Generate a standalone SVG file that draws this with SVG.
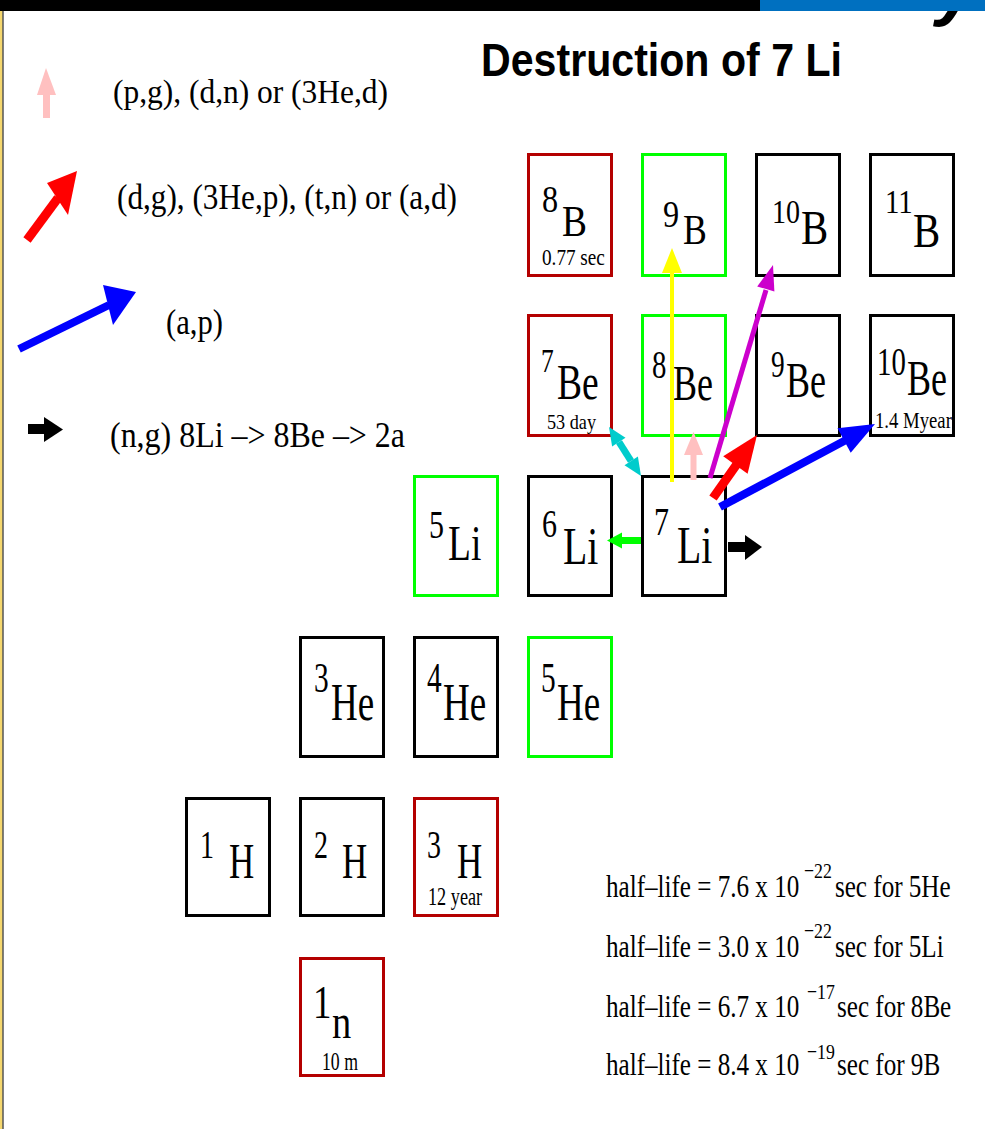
<svg xmlns="http://www.w3.org/2000/svg" width="985" height="1129" viewBox="0 0 985 1129">
<style>
.bx{fill:#ffffff;stroke-width:3}
.k{stroke:#000000}
.g{stroke:#00ff00}
.r{stroke:#b40000}
.t{font-family:"Liberation Serif","Times New Roman",serif;fill:#000000}
.s{font-family:"Liberation Sans",Arial,sans-serif;font-weight:bold;fill:#000000}
</style>
<rect x="0" y="0" width="985" height="1129" fill="#ffffff"/>
<text x="936" y="12" class="s" font-style="italic" font-size="72">y</text>
<rect x="0" y="0" width="760" height="11" fill="#000000"/>
<rect x="760" y="0" width="225" height="11" fill="#0070c0"/>
<rect x="0" y="11" width="2.5" height="1118" fill="#f5d76e"/>
<line x1="3" y1="11" x2="3" y2="1129" stroke="#000000" stroke-width="1"/>

<text x="481" y="76" class="s" font-size="46" textLength="361" lengthAdjust="spacingAndGlyphs">Destruction of 7 Li</text>

<g id="legend">
  <polygon points="46,68 37,95 56,95" fill="#ffc0c0"/>
  <rect x="43" y="94" width="7" height="24" fill="#ffc0c0"/>
  <text x="113" y="103" class="t" font-size="34" textLength="275" lengthAdjust="spacingAndGlyphs">(p,g), (d,n) or (3He,d)</text>
  <line x1="27" y1="240" x2="58" y2="198" stroke="#ff0000" stroke-width="9"/>
  <polygon points="77,171 47,183 68,215" fill="#ff0000"/>
  <text x="117" y="209" class="t" font-size="35" textLength="340" lengthAdjust="spacingAndGlyphs">(d,g), (3He,p), (t,n) or (a,d)</text>
  <line x1="19" y1="349" x2="109" y2="305" stroke="#0000ff" stroke-width="8"/>
  <polygon points="136,292 103,285 113,325" fill="#0000ff"/>
  <text x="166" y="334" class="t" font-size="35" textLength="57" lengthAdjust="spacingAndGlyphs">(a,p)</text>
  <rect x="28" y="424" width="17" height="10" fill="#000000"/>
  <polygon points="63,429.5 44,417 44,442" fill="#000000"/>
  <text x="110" y="447" class="t" font-size="35" textLength="295" lengthAdjust="spacingAndGlyphs">(n,g) 8Li –&gt; 8Be –&gt; 2a</text>
</g>

<g id="n1">
  <rect class="bx r" x="300.5" y="958.5" width="83" height="117"/>
  <text class="t" transform="translate(313,0) scale(0.8,1)"><tspan x="0" y="1018" font-size="46">1</tspan><tspan x="23.75" y="1038" font-size="48">n</tspan></text>
  <text class="t" font-size="25" transform="translate(322,1070) scale(0.71,1)">10 m</text>
</g>
<g id="H1">
  <rect class="bx k" x="186.5" y="798.5" width="83" height="117"/>
  <text class="t" transform="translate(200,0) scale(0.7,1)"><tspan x="0" y="858" font-size="40">1</tspan><tspan x="41.4" y="878" font-size="50">H</tspan></text>
</g>
<g id="H2">
  <rect class="bx k" x="300.5" y="798.5" width="83" height="117"/>
  <text class="t" transform="translate(314,0) scale(0.7,1)"><tspan x="0" y="858" font-size="40">2</tspan><tspan x="40" y="878" font-size="50">H</tspan></text>
</g>
<g id="H3">
  <rect class="bx r" x="414.5" y="798.5" width="83" height="117"/>
  <text class="t" transform="translate(427,0) scale(0.7,1)"><tspan x="0" y="858" font-size="40">3</tspan><tspan x="42.9" y="878" font-size="50">H</tspan></text>
  <text class="t" font-size="25" transform="translate(428,905) scale(0.73,1)">12 year</text>
</g>
<g id="He3">
  <rect class="bx k" x="300.5" y="637.5" width="83" height="119"/>
  <text class="t" transform="translate(314,0) scale(0.7,1)"><tspan x="0" y="692" font-size="42">3</tspan><tspan x="24.3" y="720" font-size="53">He</tspan></text>
</g>
<g id="He4">
  <rect class="bx k" x="414.5" y="637.5" width="83" height="119"/>
  <text class="t" transform="translate(427,0) scale(0.7,1)"><tspan x="0" y="692" font-size="42">4</tspan><tspan x="22.9" y="720" font-size="53">He</tspan></text>
</g>
<g id="He5">
  <rect class="bx g" x="528.5" y="637.5" width="83" height="119"/>
  <text class="t" transform="translate(541,0) scale(0.7,1)"><tspan x="0" y="692" font-size="42">5</tspan><tspan x="22.9" y="720" font-size="53">He</tspan></text>
</g>
<g id="Li5">
  <rect class="bx g" x="414.5" y="476.5" width="83" height="119"/>
  <text class="t" transform="translate(429,0) scale(0.75,1)"><tspan x="0" y="538" font-size="40">5</tspan><tspan x="25.3" y="560" font-size="50">Li</tspan></text>
</g>
<g id="Li6">
  <rect class="bx k" x="528.5" y="476.5" width="83" height="119"/>
  <text class="t" transform="translate(542,0) scale(0.75,1)"><tspan x="0" y="537" font-size="40">6</tspan><tspan x="28" y="564" font-size="53">Li</tspan></text>
</g>
<g id="Li7">
  <rect class="bx k" x="642.5" y="476.5" width="83" height="119"/>
  <text class="t" transform="translate(654,0) scale(0.75,1)"><tspan x="0" y="535" font-size="40">7</tspan><tspan x="30.7" y="563" font-size="53">Li</tspan></text>
</g>
<g id="Be7">
  <rect class="bx r" x="528.5" y="315.5" width="83" height="120"/>
  <text class="t" transform="translate(541,0) scale(0.75,1)"><tspan x="0" y="372" font-size="34">7</tspan><tspan x="21.3" y="399" font-size="50">Be</tspan></text>
  <text class="t" font-size="20" transform="translate(547,429) scale(0.91,1)">53 day</text>
</g>
<g id="Be8">
  <rect class="bx g" x="642.5" y="315.5" width="83" height="120"/>
  <text class="t" transform="translate(652,0) scale(0.72,1)"><tspan x="0" y="378" font-size="40">8</tspan><tspan x="29.2" y="400" font-size="50">Be</tspan></text>
</g>
<g id="Be9">
  <rect class="bx k" x="756.5" y="315.5" width="83" height="120"/>
  <text class="t" transform="translate(771,0) scale(0.72,1)"><tspan x="0" y="377" font-size="38">9</tspan><tspan x="20.8" y="397" font-size="50">Be</tspan></text>
</g>
<g id="Be10">
  <rect class="bx k" x="870.5" y="315.5" width="83" height="120"/>
  <text class="t" transform="translate(877,0) scale(0.72,1)"><tspan x="0" y="375" font-size="40">10</tspan><tspan x="41.7" y="395" font-size="50">Be</tspan></text>
  <text class="t" font-size="24" transform="translate(875,428) scale(0.78,1)">1.4 Myear</text>
</g>
<g id="B8">
  <rect class="bx r" x="528.5" y="154.5" width="83" height="121"/>
  <text class="t" transform="translate(542,0) scale(0.85,1)"><tspan x="0" y="212" font-size="38">8</tspan><tspan x="23.5" y="236" font-size="44">B</tspan></text>
  <text class="t" font-size="24" transform="translate(542,265) scale(0.8,1)">0.77 sec</text>
</g>
<g id="B9">
  <rect class="bx g" x="642.5" y="154.5" width="83" height="121"/>
  <text class="t" transform="translate(663,0) scale(0.85,1)"><tspan x="0" y="227" font-size="38">9</tspan><tspan x="23.5" y="244" font-size="42">B</tspan></text>
</g>
<g id="B10">
  <rect class="bx k" x="756.5" y="154.5" width="83" height="121"/>
  <text class="t" transform="translate(772,0) scale(0.85,1)"><tspan x="0" y="223" font-size="33">10</tspan><tspan x="34.1" y="244" font-size="48">B</tspan></text>
</g>
<g id="B11">
  <rect class="bx k" x="870.5" y="154.5" width="83" height="121"/>
  <text class="t" transform="translate(885,0) scale(0.85,1)"><tspan x="0" y="213" font-size="34">11</tspan><tspan x="32.9" y="247" font-size="48">B</tspan></text>
</g>

<g id="connectors">
  <line x1="672" y1="482" x2="672" y2="270" stroke="#ffff00" stroke-width="4"/>
  <polygon points="672,248 662,273 682,273" fill="#ffff00"/>
  <rect x="690.5" y="453" width="6" height="27" fill="#ffc0c0"/>
  <polygon points="693.5,432 684,455 703,455" fill="#ffc0c0"/>
  <line x1="710" y1="478" x2="766" y2="290" stroke="#cc00cc" stroke-width="5"/>
  <polygon points="773,265 774.4,291.6 757.2,286.4" fill="#cc00cc"/>
  <line x1="713" y1="498" x2="737" y2="464" stroke="#ff0000" stroke-width="9"/>
  <polygon points="757,435 747.6,473.8 723.2,456.2" fill="#ff0000"/>
  <line x1="720" y1="507" x2="846" y2="440" stroke="#0000ff" stroke-width="8"/>
  <polygon points="875,424 850.7,452.8 837.5,428.2" fill="#0000ff"/>
  <line x1="619" y1="442" x2="631" y2="461" stroke="#00cccc" stroke-width="7"/>
  <polygon points="609,427 625.5,437.7 612.1,446.5" fill="#00cccc"/>
  <polygon points="641,476 637.9,456.5 624.5,465.3" fill="#00cccc"/>
  <rect x="620" y="537" width="21" height="7" fill="#00ff00"/>
  <polygon points="607,540.5 622,532.5 622,548.5" fill="#00ff00"/>
  <rect x="728" y="542" width="19" height="10" fill="#000000"/>
  <polygon points="762,547 745,535 745,560" fill="#000000"/>
</g>

<g id="halflives">
  <text class="t" font-size="31" transform="translate(606,0) scale(0.81,1)"><tspan x="0" y="897">half–life = 7.6 x 10</tspan><tspan x="244.4" y="878" font-size="22">−22</tspan><tspan x="282.7" y="897">sec for 5He</tspan></text>
  <text class="t" font-size="31" transform="translate(606,0) scale(0.81,1)"><tspan x="0" y="957">half–life = 3.0 x 10</tspan><tspan x="244.4" y="938" font-size="22">−22</tspan><tspan x="282.7" y="957">sec for 5Li</tspan></text>
  <text class="t" font-size="31" transform="translate(606,0) scale(0.81,1)"><tspan x="0" y="1017">half–life = 6.7 x 10</tspan><tspan x="248.1" y="999" font-size="22">−17</tspan><tspan x="285.2" y="1017">sec for 8Be</tspan></text>
  <text class="t" font-size="31" transform="translate(606,0) scale(0.81,1)"><tspan x="0" y="1075">half–life = 8.4 x 10</tspan><tspan x="248.1" y="1059" font-size="22">−19</tspan><tspan x="285.2" y="1075">sec for 9B</tspan></text>
</g>
</svg>
